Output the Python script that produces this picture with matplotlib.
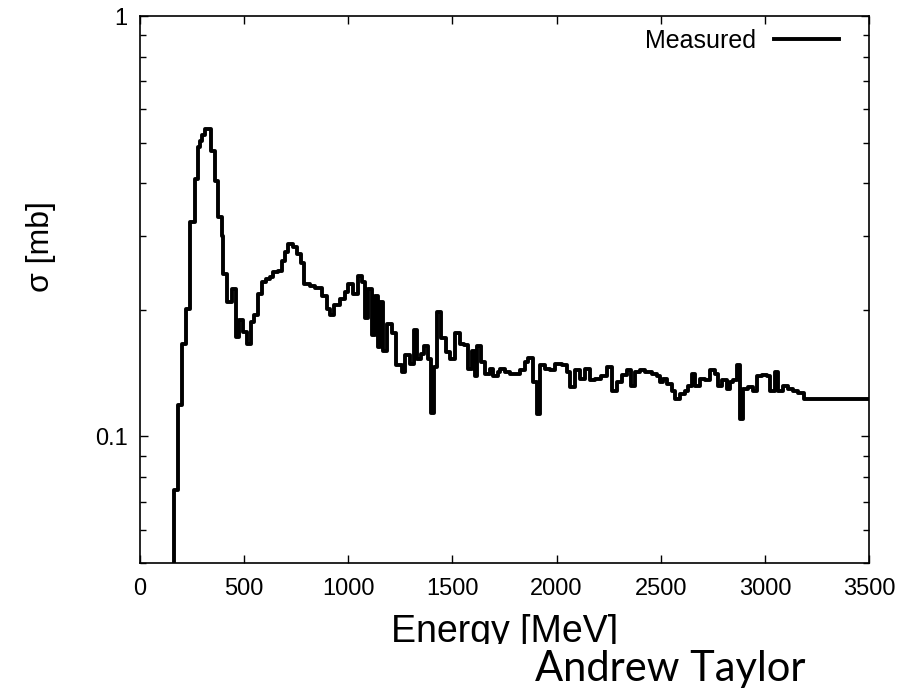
import matplotlib
matplotlib.use("Agg")
import matplotlib.pyplot as plt
from matplotlib.ticker import FixedLocator, LogLocator, NullFormatter, FuncFormatter
from matplotlib.patches import Rectangle

# Bin edges [MeV] and measured cross sections [mb] (step histogram)
energy_edges = [163, 184, 203, 221, 240, 264, 277, 288, 299, 312, 339, 360, 376, 392, 400,
                419, 440, 459, 475, 496, 512, 533, 549, 568, 584, 605, 624, 640, 664, 680,
                696, 712, 736, 752, 772, 789, 816, 840, 872, 896, 912, 931, 960, 984, 1000,
                1024, 1048, 1064, 1080, 1096, 1112, 1128, 1144, 1152, 1168, 1187, 1208, 1228,
                1256, 1272, 1296, 1315, 1328, 1348, 1365, 1381, 1397, 1413, 1424, 1444, 1468,
                1488, 1512, 1536, 1557, 1573, 1592, 1608, 1619, 1637, 1656, 1680, 1696, 1717,
                1728, 1752, 1776, 1800, 1824, 1848, 1864, 1888, 1905, 1920, 1944, 1968, 1992,
                2025, 2049, 2064, 2088, 2112, 2136, 2160, 2184, 2213, 2241, 2265, 2289, 2313,
                2337, 2357, 2376, 2400, 2424, 2457, 2481, 2497, 2512, 2529, 2553, 2569, 2593,
                2617, 2632, 2649, 2665, 2689, 2713, 2737, 2761, 2777, 2796, 2817, 2833, 2849,
                2865, 2881, 2896, 2920, 2944, 2960, 2985, 3009, 3025, 3049, 3064, 3088, 3112,
                3136, 3160, 3189, 3500]
sigma_mb = [0.0744, 0.119, 0.166, 0.201, 0.323, 0.409, 0.487, 0.504, 0.522, 0.539, 0.477,
            0.405, 0.332, 0.300, 0.243, 0.209, 0.224, 0.172, 0.189, 0.177, 0.166, 0.187,
            0.194, 0.218, 0.233, 0.237, 0.240, 0.246, 0.248, 0.262, 0.274, 0.287, 0.282,
            0.271, 0.259, 0.230, 0.228, 0.226, 0.216, 0.201, 0.194, 0.205, 0.212, 0.220,
            0.230, 0.218, 0.241, 0.233, 0.191, 0.224, 0.174, 0.216, 0.163, 0.209, 0.160,
            0.185, 0.176, 0.148, 0.142, 0.156, 0.149, 0.179, 0.153, 0.157, 0.164, 0.153,
            0.114, 0.146, 0.198, 0.171, 0.159, 0.153, 0.176, 0.166, 0.165, 0.145, 0.160,
            0.139, 0.164, 0.150, 0.141, 0.145, 0.139, 0.142, 0.145, 0.142, 0.141, 0.141,
            0.144, 0.150, 0.154, 0.135, 0.113, 0.148, 0.145, 0.144, 0.149, 0.148, 0.142,
            0.131, 0.144, 0.137, 0.145, 0.136, 0.137, 0.139, 0.146, 0.128, 0.135, 0.140,
            0.144, 0.132, 0.142, 0.144, 0.142, 0.141, 0.139, 0.135, 0.137, 0.133, 0.128,
            0.123, 0.126, 0.128, 0.132, 0.141, 0.132, 0.137, 0.136, 0.144, 0.141, 0.132,
            0.136, 0.130, 0.135, 0.136, 0.148, 0.110, 0.130, 0.131, 0.128, 0.139, 0.140,
            0.139, 0.128, 0.142, 0.128, 0.132, 0.130, 0.128, 0.127, 0.123]

x_ticks = [0, 500, 1000, 1500, 2000, 2500, 3000, 3500]
y_ticks = [0.1, 1]
y_tick_labels = ["0.1", "1"]
legend_label = "Measured"
x_label = "Energy [MeV]"
y_label = "σ [mb]"
credit = "Andrew Taylor"

W, H = 906, 689
plt.rcParams['font.family'] = ['Liberation Sans', 'DejaVu Sans']
fig = plt.figure(figsize=(W / 100, H / 100), dpi=100)
ax = fig.add_axes([140 / W, 1 - 563 / H, 729 / W, 547 / H])

# step curve: rises from below the axis at the first edge, ends flat at the last edge
step_x = [energy_edges[0]] + energy_edges
step_y = [1e-3] + sigma_mb + [sigma_mb[-1]]
ax.plot(step_x, step_y, drawstyle="steps-post", color="black", linewidth=2.8,
        label=legend_label)

ax.set_yscale("log")
ax.set_xlim(0, 3500)
ax.set_ylim(0.05, 1)

ax.xaxis.set_major_locator(FixedLocator(x_ticks))
ax.yaxis.set_major_locator(FixedLocator(y_ticks))
ax.yaxis.set_major_formatter(FuncFormatter(lambda v, p: y_tick_labels[y_ticks.index(v)] if v in y_ticks else ""))
ax.yaxis.set_minor_locator(LogLocator(base=10, subs=range(2, 10)))
ax.yaxis.set_minor_formatter(NullFormatter())

ax.tick_params(axis="both", which="both", direction="in", top=True, right=True,
               width=1.0, labelsize=17, colors="black")
ax.tick_params(axis="both", which="major", length=6)
ax.tick_params(axis="both", which="minor", length=4)
ax.tick_params(axis="x", pad=11)
ax.tick_params(axis="y", pad=9)
for s in ax.spines.values():
    s.set_linewidth(1.2)

ax.set_ylabel(y_label, fontsize=23, va="center")
ax.yaxis.set_label_coords(-0.136, 0.578)
ax.set_xlabel(x_label, fontsize=27, va="baseline")
ax.xaxis.set_label_coords(0.5007, -0.1444)

leg = ax.legend(loc="upper right", bbox_to_anchor=(0.9588, 0.976), frameon=False,
                markerfirst=False, handlelength=2.6, handletextpad=0.7,
                borderpad=0, borderaxespad=0,
                prop={"family": "Liberation Sans", "size": 18})

# white box of the overlaid credit caption (hides the lower part of the x label)
fig.patches.append(Rectangle((380 / W, 0), 1 - 380 / W, (H - 644) / H,
                             transform=fig.transFigure, facecolor="white",
                             edgecolor="none", zorder=5))
fig.text(535 / W, (H - 681) / H, credit, fontsize=30, family=["Lato", "DejaVu Sans"],
         ha="left", va="baseline", color="black", zorder=6)

fig.savefig("out.png", dpi=100)
